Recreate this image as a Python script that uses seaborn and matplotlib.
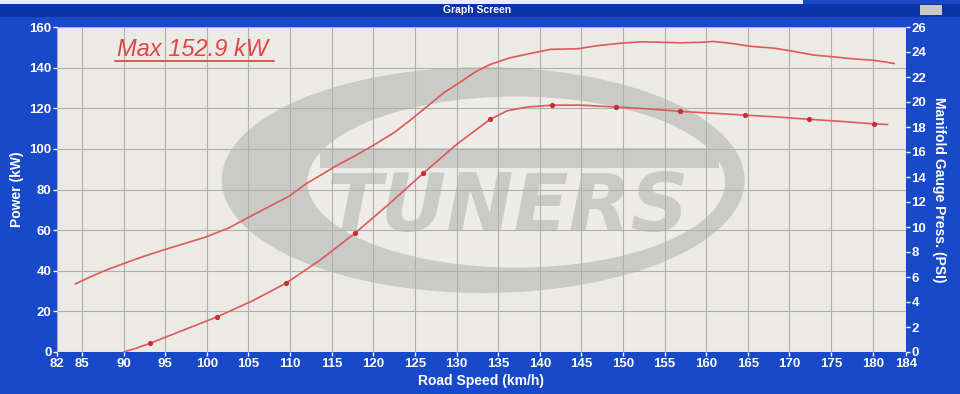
import matplotlib
matplotlib.use("Agg")
import matplotlib.pyplot as plt
from matplotlib.patches import Ellipse, Rectangle
import seaborn as sns
import pandas as pd

# ---------------- data ----------------
power_speed = [84.2, 86, 88, 90, 92, 94.6, 97, 99.8, 102.6, 105.8, 109.8, 112, 115.7,
               118, 120.3, 122.5, 124.4, 126.5, 128.6, 130.5, 132.3, 134, 136.4, 138.9,
               141.3, 144.6, 146.9, 149.7, 152.1, 154.5, 156.9, 159.6, 160.8, 162.9,
               165.3, 168.1, 170.5, 172.9, 175.3, 177.7, 180.1, 181.8, 182.6]
power_kw = [33.5, 37, 40.5, 43.5, 46.5, 50, 53, 56.5, 61, 68, 76.5, 83, 92,
            97, 102.5, 108, 114, 121, 128, 133, 138, 141.5, 144.8, 147,
            149, 149.3, 150.8, 152.0, 152.7, 152.5, 152.2, 152.5, 152.9, 152,
            150.5, 149.6, 148, 146.2, 145.3, 144.3, 143.6, 142.6, 142]

boost_speed = [90, 91.5, 93.2, 97, 101.2, 105.5, 109.5, 113.5, 117.8, 122, 126, 130,
               134, 136.1, 138.5, 141.5, 144.9, 149.1, 153, 156.9, 160.8, 164.7,
               168.5, 172.3, 176.2, 180.1, 181.8]
boost_psi = [0, 0.3, 0.7, 1.7, 2.8, 4.1, 5.5, 7.3, 9.5, 11.9, 14.3, 16.6,
             18.6, 19.3, 19.6, 19.75, 19.75, 19.6, 19.45, 19.25, 19.1, 18.95,
             18.8, 18.62, 18.45, 18.25, 18.2]
boost_marker_idx = [2, 4, 6, 8, 10, 12, 15, 17, 19, 21, 23, 25]

x_ticks = [82, 85, 90, 95, 100, 105, 110, 115, 120, 125, 130, 135, 140, 145,
           150, 155, 160, 165, 170, 175, 180, 184]
power_ticks = [0, 20, 40, 60, 80, 100, 120, 140, 160]
psi_ticks = [0, 2, 4, 6, 8, 10, 12, 14, 16, 18, 20, 22, 24, 26]

title_text = "Graph Screen"
max_text = "Max 152.9 kW"
x_label = "Road Speed (km/h)"
y_label = "Power (kW)"
y2_label = "Manifold Gauge Press. (PSI)"
logo_text = "TUNERS"

df_power = pd.DataFrame({"speed": power_speed, "power": power_kw})
df_boost = pd.DataFrame({"speed": boost_speed, "psi": boost_psi})

# ---------------- style ----------------
sns.set_style("white")
plt.rcParams["font.family"] = ["Liberation Sans", "DejaVu Sans"]

BLUE = "#1849c9"
BAR = "#0c34a6"
PLOT_BG = "#ebeae5"
GRID = "#b0b0ae"
RED = "#e05858"
LOGO = "#cacac7"

fig = plt.figure(figsize=(9.6, 3.94), dpi=100, facecolor=BLUE)
ax = fig.add_axes([57 / 960, 1 - 352 / 394, 849 / 960, 325 / 394])
ax.set_facecolor(PLOT_BG)

# window title bar
fig.patches.append(Rectangle((0, 1 - 17 / 394), 1, 13 / 394, transform=fig.transFigure,
                             facecolor=BAR, edgecolor="none", zorder=0))
fig.patches.append(Rectangle((0, 1 - 4 / 394), 803 / 960, 4 / 394, transform=fig.transFigure,
                             facecolor="#e8ecf4", edgecolor="none", zorder=1))
fig.patches.append(Rectangle((920 / 960, 1 - 15 / 394), 22 / 960, 10 / 394, transform=fig.transFigure,
                             facecolor="#c8c8c8", edgecolor="none", zorder=1))
fig.text(477 / 960, 1 - 10 / 394, title_text, color="white", fontsize=7.5,
         fontweight="bold", ha="center", va="center")

# watermark logo
ax.add_patch(Ellipse((0.502, 0.529), 0.616, 0.695, transform=ax.transAxes,
                     facecolor=LOGO, edgecolor="none", zorder=0.1))
ax.add_patch(Ellipse((0.541, 0.523), 0.492, 0.526, transform=ax.transAxes,
                     facecolor="#edece8", edgecolor="none", zorder=0.15))
ax.add_patch(Rectangle((0.31, 0.566), 0.47, 0.062, transform=ax.transAxes,
                       facecolor=LOGO, edgecolor="none", zorder=0.2))
ax.text(0.53, 0.44, logo_text, transform=ax.transAxes, fontsize=58,
        fontweight="bold", fontstyle="italic", family="DejaVu Sans",
        color=LOGO, ha="center", va="center", zorder=0.25)

# power line
sns.lineplot(data=df_power, x="speed", y="power", ax=ax, color=RED, lw=1.2,
             sort=False, zorder=3)

# boost line (right axis)
ax2 = ax.twinx()
sns.lineplot(data=df_boost, x="speed", y="psi", ax=ax2, color=RED, lw=1.2,
             sort=False, marker="o", markersize=3, markevery=boost_marker_idx,
             markerfacecolor="#c83030", markeredgecolor="#c83030", zorder=3)

ax.set_xlim(82, 184)
ax.set_ylim(0, 160)
ax2.set_ylim(0, 26)
ax.set_xticks(x_ticks)
ax.set_yticks(power_ticks)
ax2.set_yticks(psi_ticks)

# grid (below lines, above logo)
ax.set_axisbelow(True)
ax.grid(True, which="major", axis="both", color=GRID, lw=0.8)
ax2.grid(False)

for a in (ax, ax2):
    for s in a.spines.values():
        s.set_visible(False)
    a.tick_params(colors="white", labelsize=9.5, length=3, width=1, direction="out", pad=1)
    for lbl in a.get_xticklabels() + a.get_yticklabels():
        lbl.set_fontweight("bold")
ax.tick_params(axis="y", left=True)
ax.tick_params(axis="x", bottom=True)
ax2.tick_params(axis="y", right=True)

ax.set_xlabel(x_label, color="white", fontsize=10, fontweight="bold", labelpad=3)
ax.set_ylabel(y_label, color="white", fontsize=10, fontweight="bold", labelpad=4)
ax2.set_ylabel(y2_label, color="white", fontsize=10, fontweight="bold",
               rotation=-90, labelpad=14)

# max annotation
ax.text(0.071, 0.93, max_text, transform=ax.transAxes, color="#e04646",
        fontsize=17, fontstyle="italic", ha="left", va="center", zorder=4)
ax.plot([0.068, 0.256], [0.895, 0.895], transform=ax.transAxes, color="#e04646",
        lw=1.3, zorder=4)

fig.savefig("out.png", dpi=100, facecolor=BLUE)
